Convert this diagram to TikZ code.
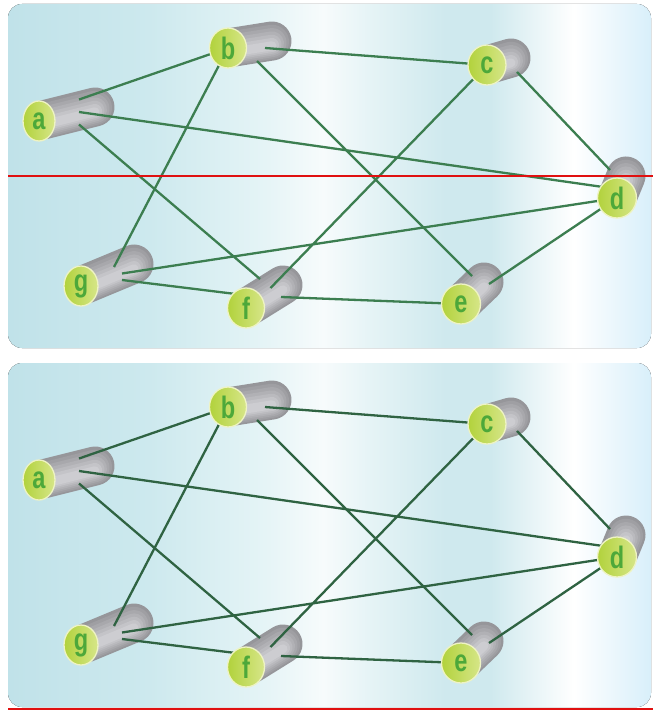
\documentclass[tikz,border=0pt]{standalone}
\usepackage{fontspec}
\usetikzlibrary{calc}
\usetikzlibrary{shapes.geometric}

\newfontfamily\labelfont{Liberation Sans}[FakeStretch=0.76]

\definecolor{bgA}{HTML}{C0E2E9}
\definecolor{bgB}{HTML}{CDE9EE}
\definecolor{bgC}{HTML}{E5F4F6}
\definecolor{bgW}{HTML}{F7FBFC}
\definecolor{bgD}{HTML}{E6F4F6}
\definecolor{bgE}{HTML}{CFE9EE}
\definecolor{bgF}{HTML}{D8EFFA}
\definecolor{hullA}{HTML}{96969A}
\definecolor{hullC}{HTML}{CFCFD3}
\definecolor{faceA}{HTML}{B2D23C}
\definecolor{faceB}{HTML}{D6E688}
\definecolor{faceRim}{HTML}{EEF3C4}
\definecolor{faceText}{HTML}{4DA83A}
\definecolor{wireA}{HTML}{3C7E50}
\definecolor{wireB}{HTML}{2F6342}
\definecolor{cutRed}{HTML}{E01010}

\pgfdeclarehorizontalshading{panelbg}{100bp}{color(0bp)=(bgA); color(25bp)=(bgA);
  color(36bp)=(bgB); color(45bp)=(bgC); color(49.5bp)=(bgW); color(53bp)=(bgD);
  color(59bp)=(bgE); color(62.5bp)=(bgE); color(69bp)=(white); color(75bp)=(bgF);
  color(100bp)=(bgF)}

\begin{document}
\begin{tikzpicture}[x=1pt, y=-1pt,
    panel/.style={shading=panelbg, rounded corners=14pt},
    spot/.style={rectangle, inner sep=0pt, outer sep=0pt},
    wire/.style={line width=2.3pt},
    face/.style={ellipse, inner sep=0pt, minimum height=40pt, left color=faceA,
      right color=faceB, draw=faceRim, line width=1.3pt, text=faceText,
      font=\labelfont\bfseries\fontsize{31}{31}\selectfont},
    cut/.style={cutRed, line width=1.8pt}]
    \useasboundingbox (0,0) rectangle (653,711);
    \foreach \p/\dy/\wc/\ry in {1/0/wireA/176, 2/359/wireB/350} {
    \begin{scope}[yshift=-\dy pt]
        \fill[panel] (8,4) rectangle (651,348);
        % cylinders: face centre, back end, box where the wires meet
        \foreach \n/\fx/\fy/\bx/\by/\cx/\cy/\w/\h in {a/39/121/95/107/79/112/2/25,
            b/228/48/272/41/261/54.5/8/13, c/487/65/511/58/517/72/1/1,
            d/617/198/626/176/610/179/1/18, e/461/304/484/282/480.5/280/17/8,
            f/246/308/283/285/270.5/288/21/18, g/81/286/134/264/118/273.5/8/13} {
            \coordinate (\n\p) at (\fx,\fy);
            \node[spot, minimum width=\w pt, minimum height=\h pt] (\n\p-in) at (\cx,\cy) {};
            \foreach \k in {0,...,6} {
                \pgfmathsetmacro{\lw}{39-5*\k}
                \pgfmathtruncatemacro{\mix}{16*\k}
                \draw[line width=\lw pt, line cap=round, hullC!\mix!hullA]
                    ([yshift=-0.8*\k pt]$(\fx,\fy)!5pt!(\bx,\by)$) -- ([yshift=-0.8*\k pt]\bx,\by);
            }
        }
        \draw[wire, \wc] (a\p-in.north) -- (b\p)
            (a\p-in.center) -- (d\p-in.south)
            (a\p-in.south) -- (f\p-in.north west)
            (b\p-in.north east) -- (c\p)
            (b\p-in.south west) -- (e\p-in.north west)
            (b\p) -- (g\p-in.north west)
            (c\p-in.center) -- (d\p-in.north)
            (c\p) -- (f\p-in.center)
            (d\p) -- (g\p-in.east)
            (d\p) -- (e\p-in.south east)
            (g\p-in.south east) -- (f\p-in.south west)
            (f\p-in.south east) -- (e\p);
        \foreach \n/\fw in {a/32, b/37, c/38, d/39, e/39, f/37, g/34}
            \node[face, minimum width=\fw pt] (face-\n\p) at (\n\p) {\n};
        \draw[cut] (8,\ry) -- (653,\ry);
    \end{scope}
    }
\end{tikzpicture}
\end{document}
